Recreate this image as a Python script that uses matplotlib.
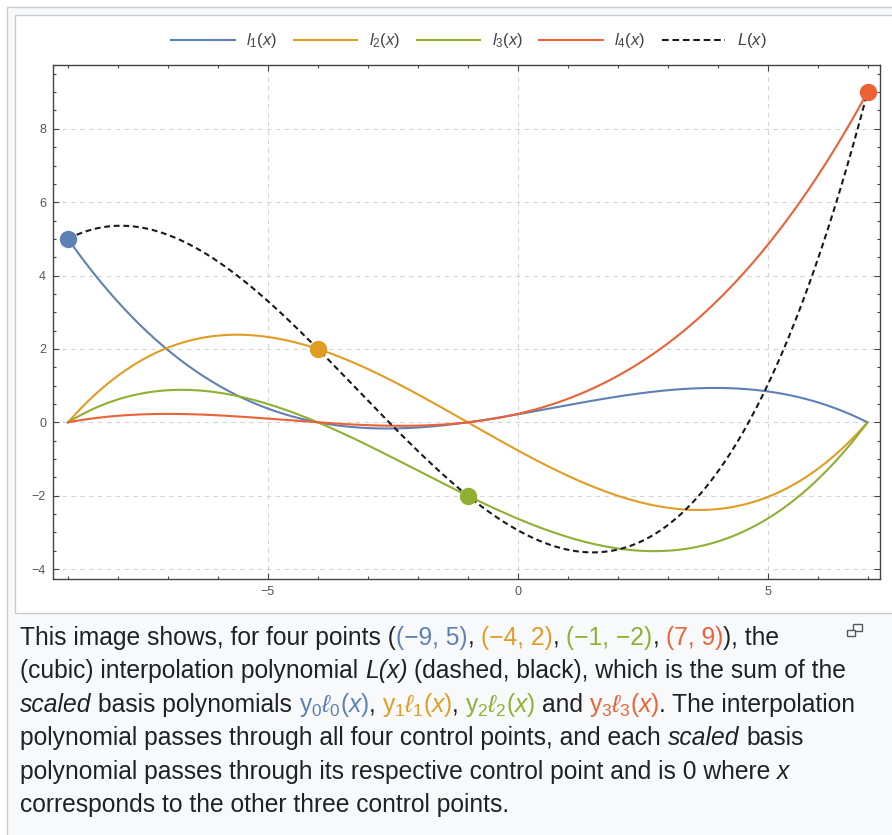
import matplotlib.pyplot as plt
import numpy as np
from matplotlib.lines import Line2D
from matplotlib.patches import Rectangle
from matplotlib.ticker import MultipleLocator

plt.rcParams["font.family"] = ["Liberation Sans", "DejaVu Sans"]
plt.rcParams["mathtext.fontset"] = "custom"
plt.rcParams["mathtext.rm"] = "Liberation Sans"
plt.rcParams["mathtext.it"] = "Liberation Sans:italic"

# control points of the interpolation
point_x = [-9, -4, -1, 7]
point_y = [5, 2, -2, 9]
colors = ["#5e81b5", "#e19c24", "#8fb032", "#eb6235"]
legend_labels = [r"$l_1(x)$", r"$l_2(x)$", r"$l_3(x)$", r"$l_4(x)$", r"$L(x)$"]

W, H = 892, 835
TEXT = "#202122"
CAP_FS = 17.7


def basis(j, x):
    out = np.ones_like(x)
    for m, xm in enumerate(point_x):
        if m != j:
            out *= (x - xm) / (point_x[j] - xm)
    return out


fig = plt.figure(figsize=(W / 100, H / 100), dpi=100, facecolor="white")

# wiki-style thumbnail frame
fig.patches.append(Rectangle((7 / W, -0.01), 1, 1 - 7 / H + 0.01, transform=fig.transFigure,
                             facecolor="#f8f9fa", edgecolor="#c8ccd1", lw=1, zorder=-10))
fig.patches.append(Rectangle((15 / W, 1 - 613 / H), 1, (613 - 15) / H, transform=fig.transFigure,
                             facecolor="white", edgecolor="#c8ccd1", lw=1, zorder=-9))

ax = fig.add_axes([53 / W, 1 - 579 / H, (880 - 53) / W, (579 - 65) / H])

xx = np.linspace(point_x[0], point_x[-1], 500)
total = np.zeros_like(xx)
handles = []
for j in range(4):
    yy = point_y[j] * basis(j, xx)
    total += yy
    line, = ax.plot(xx, yy, color=colors[j], lw=1.5, zorder=3)
    handles.append(line)
dashed, = ax.plot(xx, total, color="#1a1a1a", lw=1.5, ls=(0, (2.8, 1.8)), zorder=4)
handles.append(dashed)
for j in range(4):
    ax.plot(point_x[j], point_y[j], "o", ms=11.5, color=colors[j], zorder=5, clip_on=False)

ax.set_xlim(-9.3, 7.25)
ax.set_ylim(-4.27, 9.74)
ax.xaxis.set_major_locator(MultipleLocator(5))
ax.xaxis.set_minor_locator(MultipleLocator(1))
ax.yaxis.set_major_locator(MultipleLocator(2))
ax.yaxis.set_minor_locator(MultipleLocator(0.5))
ax.tick_params(which="both", direction="in", top=True, right=True, color="#444444",
               labelsize=9, labelcolor="#555555", width=0.8, pad=5)
ax.tick_params(which="major", length=4)
ax.tick_params(which="minor", length=2.5)
ax.grid(True, which="major", color="#d4d4d4", ls=(0, (4, 4)), lw=0.8)
for sp in ax.spines.values():
    sp.set_color("#444444")
    sp.set_linewidth(1)

leg_handles = [Line2D([], [], color=h.get_color(), lw=1.5, ls=h.get_linestyle()) for h in handles]
leg_handles[-1].set_linestyle((0, (3.2, 1.8)))
fig.legend(leg_handles, legend_labels, loc="center", bbox_to_anchor=(469 / W, 1 - 41 / H),
           ncol=5, frameon=False, fontsize=12, handlelength=3.8, handletextpad=0.7,
           columnspacing=1.0, labelcolor="#444444")

# caption, drawn piece by piece so parts can be coloured
renderer = fig.canvas.get_renderer()


def advance(s, **kw):
    a = fig.text(0, 0, "|" + s + "|", fontsize=CAP_FS, **kw)
    b = fig.text(0, 0, "||", fontsize=CAP_FS, **kw)
    w = a.get_window_extent(renderer).width - b.get_window_extent(renderer).width
    a.remove()
    b.remove()
    return w


def caption_line(pieces, y, x0=20):
    x = x0
    for s, color, style in pieces:
        stripped = s.lstrip(" ")
        x += advance(s[: len(s) - len(stripped)], style=style)
        fig.text(x / W, 1 - y / H, stripped.rstrip(" "), fontsize=CAP_FS, color=color,
                 style=style, ha="left", va="baseline")
        x += advance(stripped, style=style)


def scaled(i):
    return r"$\mathrm{y}_%d\ell_%d(x)$" % (i, i)


lines = [
    [("This image shows, for four points (", TEXT, "normal"), ("(−9, 5)", colors[0], "normal"),
     (", ", TEXT, "normal"), ("(−4, 2)", colors[1], "normal"), (", ", TEXT, "normal"),
     ("(−1, −2)", colors[2], "normal"), (", ", TEXT, "normal"), ("(7, 9)", colors[3], "normal"),
     ("), the", TEXT, "normal")],
    [("(cubic) interpolation polynomial ", TEXT, "normal"), ("L(x)", TEXT, "italic"),
     (" (dashed, black), which is the sum of the", TEXT, "normal")],
    [("scaled", TEXT, "italic"), (" basis polynomials ", TEXT, "normal"), (scaled(0), colors[0], "normal"),
     (", ", TEXT, "normal"), (scaled(1), colors[1], "normal"), (", ", TEXT, "normal"),
     (scaled(2), colors[2], "normal"), (" and ", TEXT, "normal"), (scaled(3), colors[3], "normal"),
     (". The interpolation", TEXT, "normal")],
    [("polynomial passes through all four control points, and each ", TEXT, "normal"),
     ("scaled", TEXT, "italic"), (" basis", TEXT, "normal")],
    [("polynomial passes through its respective control point and is 0 where ", TEXT, "normal"),
     ("x", TEXT, "italic")],
    [("corresponds to the other three control points.", TEXT, "normal")],
]
baselines = [645, 678, 712, 745, 779, 812]
for pieces, y in zip(lines, baselines):
    caption_line(pieces, y)

# little "enlarge" icon
fig.patches.append(Rectangle((853 / W, 1 - 631 / H), 9 / W, 7 / H, transform=fig.transFigure,
                             facecolor="none", edgecolor="#54595d", lw=1))
fig.patches.append(Rectangle((847 / W, 1 - 636 / H), 8 / W, 6 / H, transform=fig.transFigure,
                             facecolor="#f8f9fa", edgecolor="#54595d", lw=1))

fig.savefig("out.png", dpi=100, facecolor=fig.get_facecolor())
